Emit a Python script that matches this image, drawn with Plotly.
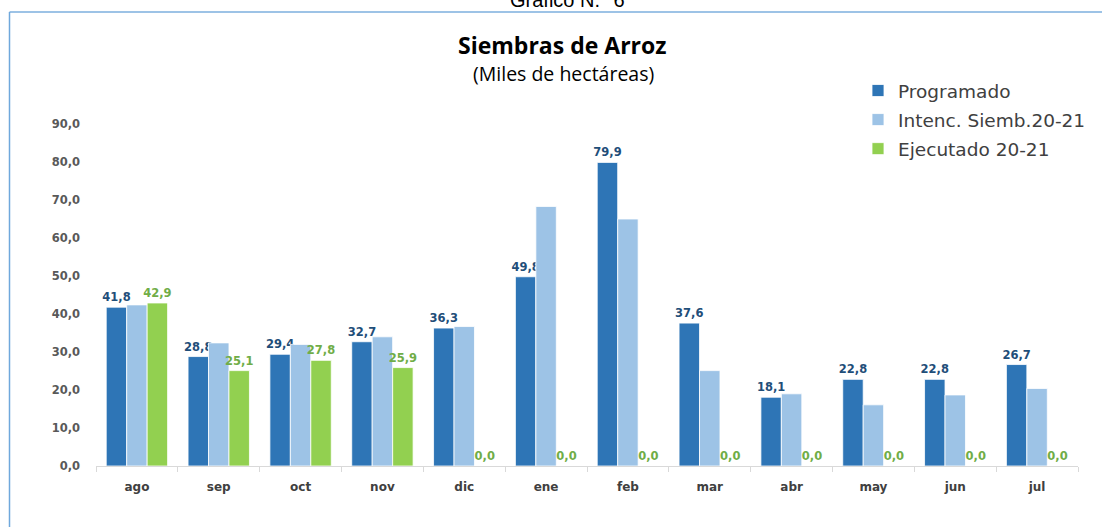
import plotly.graph_objects as go

months = ["ago", "sep", "oct", "nov", "dic", "ene", "feb", "mar", "abr", "may", "jun", "jul"]
programado = [41.8, 28.8, 29.4, 32.7, 36.3, 49.8, 79.9, 37.6, 18.1, 22.8, 22.8, 26.7]
intencion = [42.4, 32.4, 32.0, 34.0, 36.7, 68.3, 65.0, 25.1, 19.0, 16.1, 18.7, 20.4]
ejecutado = [42.9, 25.1, 27.8, 25.9, 0.0, 0.0, 0.0, 0.0, 0.0, 0.0, 0.0, 0.0]

W, H = 1102, 527
L, R, T, B = 96, 24, 124, 61
pw, ph = W - L - R, H - T - B


def px(x):
    return (x - L) / pw


def py(y):
    return (H - B - y) / ph


lbl_font = dict(family="DejaVu Sans", size=11.5, weight="bold")

fig = go.Figure()
fig.add_trace(go.Bar(
    name="Programado", x=months, y=programado,
    marker=dict(color="#2E75B6", line=dict(color="#FFFFFF", width=0.8)),
    texttemplate="%{y:.1f}", textposition="outside", constraintext="none",
    textfont=dict(color="#1F4E79", **lbl_font), cliponaxis=False,
    legendgroup="a",
))
fig.add_trace(go.Bar(
    name="Intenc. Siemb.20-21", x=months, y=intencion,
    marker=dict(color="#9DC3E6", line=dict(color="#FFFFFF", width=0.8)),
    legendgroup="b",
))
fig.add_trace(go.Bar(
    name="Ejecutado 20-21", x=months, y=ejecutado,
    marker=dict(color="#92D050", line=dict(color="#FFFFFF", width=0.8)),
    texttemplate="%{y:.1f}", textposition="outside", constraintext="none",
    textfont=dict(color="#70AD47", **lbl_font), cliponaxis=False,
    legendgroup="c",
))

fig.update_layout(
    width=W, height=H,
    margin=dict(l=L, r=R, t=T, b=B, autoexpand=False),
    paper_bgcolor="white", plot_bgcolor="white",
    separators=",.",
    barmode="group", bargap=0.25, bargroupgap=0,
    showlegend=True,
    legend=dict(
        x=px(858), y=py(72), xanchor="left", yanchor="top",
        font=dict(family="DejaVu Sans", size=18.5, color="#404040"),
        traceorder="grouped", tracegroupgap=2,
        bgcolor="rgba(0,0,0,0)",
    ),
    xaxis=dict(
        showline=True, linecolor="#D9D9D9", linewidth=1,
        ticks="outside", tickson="boundaries", ticklen=5, tickcolor="#D9D9D9",
        tickfont=dict(family="DejaVu Sans", size=12, color="#404040", weight="bold"),
        ticklabelstandoff=10,
        showgrid=False, zeroline=False,
    ),
    yaxis=dict(
        range=[0, 90], tickvals=[0, 10, 20, 30, 40, 50, 60, 70, 80, 90],
        tickformat=".1f", showgrid=False, zeroline=False, showline=False,
        tickfont=dict(family="DejaVu Sans", size=11.5, color="#595959", weight="bold"),
        ticklabelstandoff=15,
    ),
    annotations=[
        dict(text="Gráfico N.° 6", x=px(567), y=py(13), xref="paper", yref="paper",
             xanchor="center", yanchor="bottom", showarrow=False,
             font=dict(family="Liberation Sans", size=20, color="#000000")),
        dict(text="<b>Siembras de Arroz</b>", x=px(562), y=py(45), xref="paper", yref="paper",
             xanchor="center", yanchor="middle", showarrow=False,
             font=dict(family="Open Sans", size=23, color="#000000")),
        dict(text="(Miles de hectáreas)", x=px(563), y=py(73), xref="paper", yref="paper",
             xanchor="center", yanchor="middle", showarrow=False,
             font=dict(family="Open Sans", size=19.5, color="#000000")),
    ],
    shapes=[
        dict(type="line", xref="paper", yref="paper", x0=px(9.5), x1=px(1102),
             y0=py(12), y1=py(12), line=dict(color="#9DC3E6", width=2)),
        dict(type="line", xref="paper", yref="paper", x0=px(9.5), x1=px(9.5),
             y0=py(12), y1=py(530), line=dict(color="#6FA8DC", width=1.5)),
    ],
)

fig.write_html(
    "out.html",
    config={"displayModeBar": False},
    post_script="document.body.style.margin='0px';document.body.style.padding='0px';",
)
